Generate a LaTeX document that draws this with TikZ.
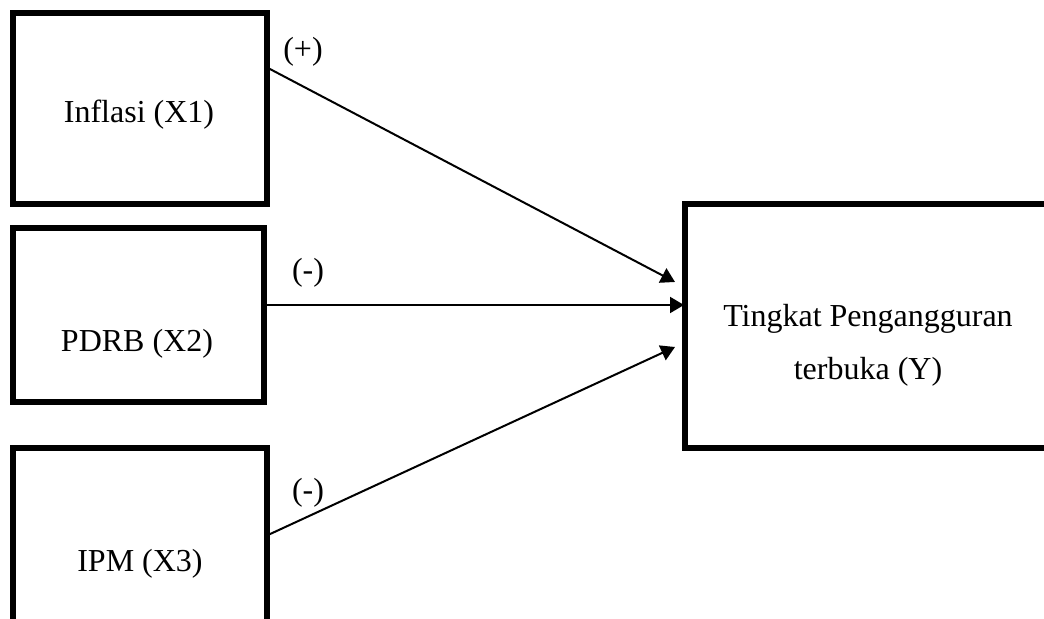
\documentclass[tikz,border=0pt]{standalone}
\usepackage{fontspec}
\setmainfont{Liberation Serif}
\usetikzlibrary{arrows.meta}
\begin{document}
\begin{tikzpicture}[x=0.5pt,y=-0.5pt,
  box/.style={draw,line width=3pt,rectangle,inner sep=0pt},
  txt/.style={font=\fontsize{16}{26.5}\selectfont,inner sep=0pt,anchor=base},
  lbl/.style={font=\fontsize{16}{19}\selectfont,inner sep=0pt,anchor=base},
  conn/.style={line width=1pt,-{Triangle[length=7pt,width=8pt]}}]
\useasboundingbox (0,0) rectangle (1044,619);
\clip (0,0) rectangle (1044,619);
\node[box,minimum width=127pt,minimum height=95.5pt] (x1) at (140,108.5) {};
\node[box,minimum width=125.5pt,minimum height=87pt] (x2) at (138.5,315) {};
\node[box,minimum width=127pt,minimum height=91pt] (x3) at (140,539) {};
\node[box,minimum width=187.5pt,minimum height=122pt] (y) at (872.5,326) {};
\node[txt] (t1) at (139,123) {Inflasi (X1)};
\node[txt] (t2) at (137,352) {PDRB (X2)};
\node[txt] (t3) at (140,572) {IPM (X3)};
\node[txt,align=center,anchor=north] (ty) at (868,304) {Tingkat Pengangguran\\terbuka (Y)};
\coordinate (s1) at (268,68);
\coordinate (e1) at (675,282);
\coordinate (s2) at (266,305);
\coordinate (e2) at (684,305);
\coordinate (s3) at (268,535);
\coordinate (e3) at (675,347);
\draw[conn] (s1) -- (e1);
\draw[conn] (s2) -- (e2);
\draw[conn] (s3) -- (e3);
\node[lbl] (l1) at (303,60) {(+)};
\node[lbl] (l2) at (308,281) {(-)};
\node[lbl] (l3) at (308,501) {(-)};
\end{tikzpicture}
\end{document}
